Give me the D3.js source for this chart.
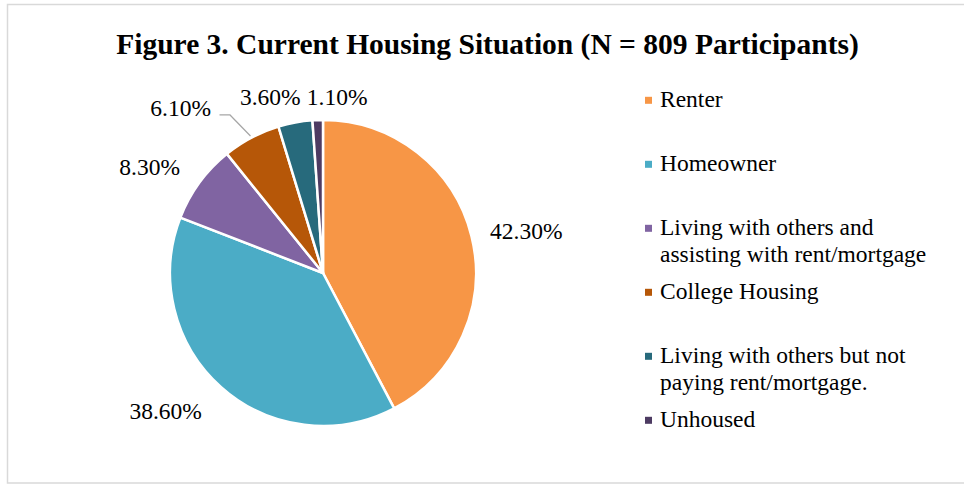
<!DOCTYPE html>
<html>
<head>
<meta charset="utf-8">
<script src="https://cdn.jsdelivr.net/npm/d3@7"></script>
<style>
  body { margin: 0; background: #fff; }
  svg { display: block; font-family: "Liberation Serif", "Times New Roman", serif; }
</style>
</head>
<body>
<svg id="chart" width="964" height="485"></svg>
<script>
// === data ===
const title = "Figure 3. Current Housing Situation (N = 809 Participants)";
const categories = [
  "Renter",
  "Homeowner",
  "Living with others and assisting with rent/mortgage",
  "College Housing",
  "Living with others but not paying rent/mortgage.",
  "Unhoused"
];
const shares = [42.3, 38.6, 8.3, 6.1, 3.6, 1.1];
const colors = ["#F79646", "#4BACC6", "#8064A2", "#B65708", "#276A7C", "#4D3B62"];

// layout tweaks for the data labels (Excel "best fit" placement), px
const labelShift = [[6, 0], [-22, 6], [-14, -2], [-50, -8.6], [-17, -2], [21, 1]];

const W = 964, H = 485;
const cx = 323, cy = 273, R = 153;
const fmt = d => d3.format(".2f")(d) + "%";

const svg = d3.select("#chart");

// chart frame
svg.append("rect")
  .attr("x", 7.5).attr("y", 4.5)
  .attr("width", W + 10).attr("height", 478.5)
  .attr("fill", "#fff")
  .attr("stroke", "#d9d9d9")
  .attr("stroke-width", 1.5);

// title
svg.append("text")
  .attr("x", 487.5).attr("y", 53.5)
  .attr("text-anchor", "middle")
  .attr("font-size", 29.5)
  .attr("font-weight", "bold")
  .attr("fill", "#000")
  .text(title);

// === pie ===
const pie = d3.pie().sort(null).value(d => d.value);
const arcs = pie(shares.map((v, i) => ({ value: v, name: categories[i], i })));
const arc = d3.arc().innerRadius(0).outerRadius(R);

const g = svg.append("g").attr("transform", `translate(${cx},${cy})`);

g.selectAll("path")
  .data(arcs)
  .join("path")
  .attr("d", arc)
  .attr("fill", d => colors[d.data.i])
  .attr("stroke", "#fff")
  .attr("stroke-width", 2.5)
  .attr("stroke-linejoin", "round");

// === data labels ===
const labelG = g.append("g").attr("font-size", 23.5).attr("fill", "#000");
const pad = 14, boxH = 20;

arcs.forEach((d, k) => {
  const a = (d.startAngle + d.endAngle) / 2;
  const dx = Math.sin(a), dy = -Math.cos(a);
  const t = labelG.append("text")
    .attr("text-anchor", "middle")
    .text(fmt(d.data.value));
  const w = t.node().getComputedTextLength();
  // outside-end position, then nudge
  let x = dx * (R + pad) + dx * w / 2 + labelShift[k][0];
  let y = dy * (R + pad) + dy * boxH / 2 + labelShift[k][1];
  t.attr("x", x).attr("y", y + 8);

  const shift = Math.hypot(labelShift[k][0], labelShift[k][1]);
  if (shift > 30) {
    // leader line back to the slice
    const x0 = x + w / 2 + 8.5, ly = y + 7;
    const pts = [[x0, ly], [x0 + 10.5, ly], [dx * (R + 2), dy * (R + 2)]];
    labelG.append("path")
      .attr("d", d3.line()(pts))
      .attr("fill", "none")
      .attr("stroke", "#a6a6a6")
      .attr("stroke-width", 1.2);
  }
});

// === legend ===
const legY = d3.scaleLinear().domain([0, categories.length - 1]).range([107, 427]);
const legend = svg.append("g").attr("font-size", 23.5).attr("fill", "#000");
const wrapW = 285, lineH = 27;

categories.forEach((name, i) => {
  const y = legY(i);
  legend.append("rect")
    .attr("x", 645).attr("y", y - 10.2)
    .attr("width", 7).attr("height", 7)
    .attr("fill", colors[i]);

  const t = legend.append("text").attr("x", 660).attr("y", y);
  const words = name.split(" ");
  let line = [], tspan = t.append("tspan").attr("x", 660).attr("y", y);
  let row = 0;
  words.forEach(word => {
    line.push(word);
    tspan.text(line.join(" "));
    if (tspan.node().getComputedTextLength() > wrapW && line.length > 1) {
      line.pop();
      tspan.text(line.join(" "));
      line = [word];
      row++;
      tspan = t.append("tspan").attr("x", 660).attr("y", y + row * lineH).text(word);
    }
  });
});
</script>
</body>
</html>
